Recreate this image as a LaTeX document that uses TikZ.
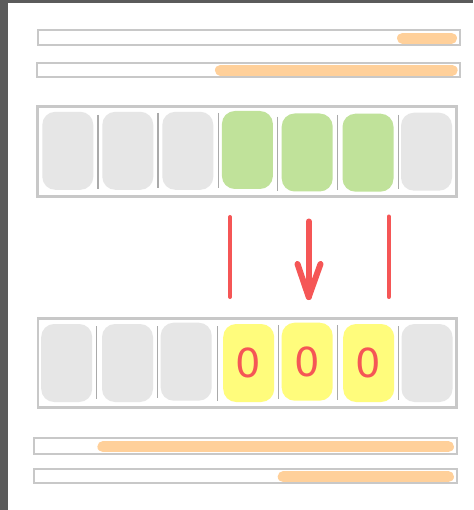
\documentclass[tikz,border=0pt]{standalone}
\usepackage{fontspec}
\setmainfont{DejaVu Sans}
\definecolor{frameg}{HTML}{C8C8C8}
\definecolor{cellg}{HTML}{E6E6E6}
\definecolor{cellgreen}{HTML}{C0E29A}
\definecolor{cellyel}{HTML}{FFFC7C}
\definecolor{pillor}{HTML}{FFD09A}
\definecolor{redc}{HTML}{F55656}
\definecolor{darkf}{HTML}{5B5B5B}
\begin{document}
\begin{tikzpicture}[x=1pt,y=-1pt,
  cell/.style={rectangle, rounded corners=13pt, minimum width=51pt, minimum height=78pt, inner sep=0pt, draw=none},
  grey/.style={cell, fill=cellg},
  green/.style={cell, fill=cellgreen},
  yel/.style={cell, fill=cellyel, text=redc, font=\fontsize{40}{40}\selectfont},
  bar/.style={draw=frameg, line width=2.2pt},
  box/.style={draw=frameg, line width=2.6pt},
  pill/.style={pillor, line cap=round},
  sep/.style={draw=frameg!85!black, line width=1.3pt},
  redl/.style={draw=redc, line width=4pt, line cap=round},
  arr/.style={draw=redc, line width=6pt, line cap=round, line join=round}]
\useasboundingbox (0,0) rectangle (473,510);
\fill[white] (0,0) rectangle (473,510);
\fill[darkf] (0,0) rectangle (8,510);
\fill[darkf] (0,0) rectangle (473,3);
% bars top
\draw[bar] (38,30) rectangle (460,44.7);
\draw[pill, line width=11pt] (402.5,38.3) -- (451.5,38.3);
\draw[bar] (37,63) rectangle (460,77);
\draw[pill, line width=10.7pt] (220.3,70.3) -- (452.3,70.3);
% top array
\draw[box] (37.3,106.3) rectangle (456.5,196.5);
\node[grey] (t1) at (67.8,150.8) {};
\node[grey] (t2) at (127.8,150.8) {};
\node[grey] (t3) at (187.8,150.8) {};
\node[green] (t4) at (247.4,150) {};
\node[green] (t5) at (307.2,152.5) {};
\node[green] (t6) at (368,152.7) {};
\node[grey] (t7) at (426.5,151.7) {};
\draw[sep] (98,115) -- (98,189);
\draw[sep] (158,113) -- (158,188);
\draw[sep] (218.5,113) -- (218.5,188);
\draw[sep] (277.7,116.7) -- (277.7,190.7);
\draw[sep] (337.7,115) -- (337.7,190);
\draw[sep] (398.3,115) -- (398.3,189);
% red markers
\coordinate (l1) at (230,217);
\coordinate (l2) at (230,297);
\coordinate (r1) at (388.7,216.5);
\coordinate (r2) at (388.7,297);
\coordinate (a1) at (308.7,221.5);
\coordinate (a2) at (308.7,297);
\coordinate (w1) at (297.5,264);
\coordinate (w2) at (320.5,264);
\draw[redl] (l1) -- (l2);
\draw[redl] (r1) -- (r2);
\draw[arr] (a1) -- (a2);
\draw[arr] (w1) -- (a2) -- (w2);
% bottom array
\draw[box] (38,318.2) rectangle (456.5,407.5);
\node[grey] (b1) at (66.7,363) {};
\node[grey] (b2) at (127.5,363) {};
\node[grey] (b3) at (186.2,361.7) {};
\node[yel] (b4) at (248.7,363) {0};
\node[yel] (b5) at (307.2,361.7) {0};
\node[yel] (b6) at (368.7,363) {0};
\node[grey] (b7) at (427,363) {};
\draw[sep] (96.7,326) -- (96.7,399.3);
\draw[sep] (157.3,326) -- (157.3,398);
\draw[sep] (217.3,326) -- (217.3,400.7);
\draw[sep] (278.3,325) -- (278.3,399);
\draw[sep] (337.7,325) -- (337.7,400);
\draw[sep] (398.3,326) -- (398.3,400);
% bars bottom
\draw[bar] (34.3,438.3) rectangle (457.3,453.7);
\draw[pill, line width=11.3pt] (103,446.7) -- (448.3,446.7);
\draw[bar] (34.3,468.7) rectangle (457.3,483.3);
\draw[pill, line width=11.3pt] (283.3,476.7) -- (448.3,476.7);
\end{tikzpicture}
\end{document}
